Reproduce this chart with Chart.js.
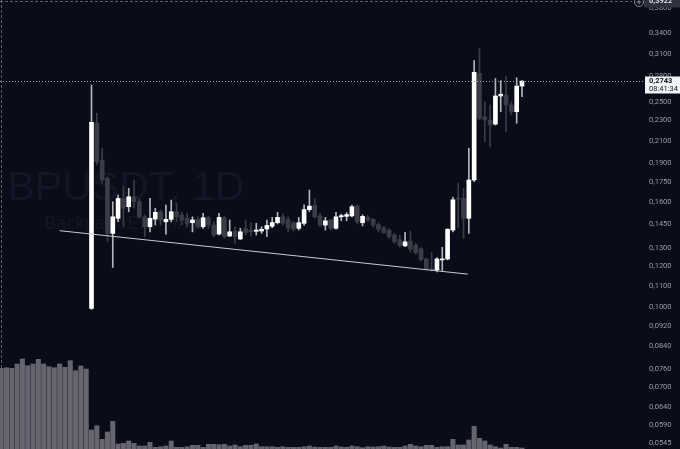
<!DOCTYPE html>
<html>
<head>
<meta charset="utf-8">
<script src="https://cdn.jsdelivr.net/npm/chart.js@4.4.1/dist/chart.umd.min.js"></script>
<style>
  html, body { margin: 0; padding: 0; background: #0a0c19; }
  #wrap { width: 680px; height: 449px; }
</style>
</head>
<body>
<div id="wrap"><canvas id="chart" width="680" height="449"></canvas></div>
<script>
// BPUSDT daily candles (first candle sits after 17 volume-only slots)
const firstCandle = 17;

const open = [0.0995, 0.2272, 0.1928, 0.1777, 0.1390, 0.1487, 0.1625, 0.1566, 0.1637, 0.1601,
  0.1497, 0.1432, 0.1482, 0.1531, 0.1464, 0.1480, 0.1531, 0.1509, 0.1487, 0.1458,
  0.1480, 0.1432, 0.1491, 0.1443, 0.1386, 0.1491, 0.1374, 0.1404, 0.1356, 0.1420,
  0.1410, 0.1403, 0.1405, 0.1418, 0.1435, 0.1458, 0.1497, 0.1480, 0.1458, 0.1422,
  0.1454, 0.1546, 0.1575, 0.1503, 0.1443, 0.1476, 0.1422, 0.1497, 0.1500, 0.1503,
  0.1570, 0.1458, 0.1493, 0.1480, 0.1446, 0.1425, 0.1411, 0.1380, 0.1352, 0.1315,
  0.1343, 0.1318, 0.1298, 0.1240, 0.1187, 0.1180, 0.1235, 0.1240, 0.1411, 0.1625,
  0.1625, 0.1487, 0.1764, 0.2840, 0.2340, 0.2306, 0.2264, 0.2567, 0.2578, 0.2466,
  0.2393, 0.2683];

const high = [0.2696, 0.2376, 0.2032, 0.1790, 0.1601, 0.1650, 0.1717, 0.1700, 0.1764, 0.1625,
  0.1509, 0.1625, 0.1555, 0.1543, 0.1578, 0.1613, 0.1590, 0.1527, 0.1520, 0.1497,
  0.1497, 0.1520, 0.1503, 0.1464, 0.1520, 0.1503, 0.1476, 0.1432, 0.1422, 0.1476,
  0.1458, 0.1454, 0.1432, 0.1476, 0.1493, 0.1527, 0.1515, 0.1497, 0.1465, 0.1493,
  0.1580, 0.1687, 0.1625, 0.1520, 0.1493, 0.1480, 0.1527, 0.1515, 0.1525, 0.1578,
  0.1578, 0.1510, 0.1505, 0.1487, 0.1458, 0.1435, 0.1420, 0.1390, 0.1380, 0.1396,
  0.1405, 0.1330, 0.1305, 0.1245, 0.1276, 0.1248, 0.1306, 0.1420, 0.1635, 0.1739,
  0.1700, 0.2032, 0.3005, 0.3175, 0.2503, 0.2466, 0.2775, 0.2748, 0.2802, 0.2503,
  0.2784, 0.2750];

const low = [0.0990, 0.1887, 0.1740, 0.1339, 0.1194, 0.1464, 0.1432, 0.1531, 0.1555, 0.1487,
  0.1370, 0.1400, 0.1443, 0.1443, 0.1386, 0.1464, 0.1464, 0.1443, 0.1432, 0.1400,
  0.1422, 0.1422, 0.1422, 0.1370, 0.1380, 0.1360, 0.1370, 0.1330, 0.1352, 0.1380,
  0.1374, 0.1380, 0.1390, 0.1370, 0.1425, 0.1450, 0.1440, 0.1400, 0.1405, 0.1411,
  0.1440, 0.1531, 0.1487, 0.1432, 0.1411, 0.1411, 0.1416, 0.1470, 0.1470, 0.1497,
  0.1450, 0.1437, 0.1465, 0.1430, 0.1400, 0.1390, 0.1360, 0.1330, 0.1308, 0.1310,
  0.1280, 0.1266, 0.1230, 0.1180, 0.1175, 0.1170, 0.1178, 0.1235, 0.1400, 0.1424,
  0.1360, 0.1390, 0.1751, 0.2306, 0.2093, 0.2046, 0.2255, 0.2393, 0.2188, 0.2358,
  0.2273, 0.2560];

const close = [0.2282, 0.1914, 0.1764, 0.1390, 0.1497, 0.1625, 0.1555, 0.1637, 0.1601, 0.1497,
  0.1432, 0.1487, 0.1527, 0.1476, 0.1480, 0.1531, 0.1497, 0.1476, 0.1454, 0.1476,
  0.1432, 0.1491, 0.1443, 0.1380, 0.1493, 0.1370, 0.1400, 0.1370, 0.1400, 0.1395,
  0.1400, 0.1411, 0.1416, 0.1440, 0.1459, 0.1493, 0.1454, 0.1422, 0.1416, 0.1458,
  0.1546, 0.1570, 0.1497, 0.1443, 0.1470, 0.1422, 0.1497, 0.1505, 0.1512, 0.1566,
  0.1464, 0.1500, 0.1476, 0.1443, 0.1416, 0.1395, 0.1370, 0.1339, 0.1318, 0.1339,
  0.1296, 0.1276, 0.1237, 0.1185, 0.1180, 0.1240, 0.1240, 0.1416, 0.1615, 0.1620,
  0.1487, 0.1764, 0.2853, 0.2323, 0.2306, 0.2255, 0.2567, 0.2587, 0.2466, 0.2393,
  0.2683, 0.2743];

// volume per slot (relative height, no scale shown on the chart)
const volume = [80.7, 81.3, 80.7, 85, 90, 83.3, 85, 89.7, 85, 82.3, 81.3, 85, 81.7, 88.3, 78.3, 83, 80,
  19, 23.3, 9.7, 17, 27.7, 5, 5.7, 8, 5.7, 3, 3, 6.7, 1.7, 2.3, 3, 8, 1.7, 1.7, 2.3, 3.7,
  3.7, 1.7, 4.7, 4.7, 4.3, 4.7, 3, 4, 2.3, 3.7, 3.7, 5, 2.3, 2.3, 2.3, 1.7, 2.3, 1.7, 1.7, 1.7,
  2.3, 3, 2, 1.7, 1.7, 1.7, 3, 2, 1.7, 3, 2.3, 1.3, 2.3, 2, 2.3, 3, 2, 1.7, 1.7, 3,
  4.7, 3, 2.3, 3.7, 3.7, 1.7, 2.3, 2.3, 9.7, 4, 4, 9, 22.7, 10.7, 8, 4, 2.3, 1, 4.7, 1.7, 1.7,
  1];

// support trendline drawn on the chart (slot index, price)
const trendSlot = [11, 87.8];
const trendPrice = [0.1407, 0.1159];

const priceTicks = [0.38, 0.34, 0.31, 0.28, 0.25, 0.23, 0.21, 0.19, 0.175, 0.16, 0.145,
  0.13, 0.12, 0.11, 0.10, 0.092, 0.084, 0.076, 0.07, 0.064, 0.059, 0.0545];

const lastPrice = 0.2743;
const lastTime = '08:41:34';
const crossPrice = 0.3922;

const BG = '#0a0c19';
const BULL = '#ffffff';
const BEAR = '#3b3c48';

const fmt = v => v.toFixed(4).replace('.', ',');
const isBull = i => close[i] >= open[i];

const bodies = open.map((o, i) => ({ x: firstCandle + i, y: [o, close[i]] }));
const wicks = low.map((l, i) => ({ x: firstCandle + i, y: [l, high[i]] }));
const vols = volume.map((v, i) => ({ x: i, y: v }));
const trend = trendSlot.map((s, i) => ({ x: s, y: trendPrice[i] }));

const overlay = {
  id: 'overlay',
  beforeDraw(chart) {
    const c = chart.ctx;
    c.save();
    c.fillStyle = BG;
    c.fillRect(0, 0, chart.width, chart.height);
    c.restore();
  },
  beforeDatasetsDraw(chart) {
    const c = chart.ctx;
    c.save();
    c.fillStyle = 'rgba(130,135,160,0.08)';
    c.textAlign = 'center';
    c.textBaseline = 'alphabetic';
    c.font = '41px "Liberation Sans", Arial, sans-serif';
    c.fillText('BPUSDT, 1D', 126, 200);
    c.font = '18px "Liberation Sans", Arial, sans-serif';
    c.fillText('Backpack Exchange', 126, 229);
    c.restore();
  },
  afterDraw(chart) {
    const c = chart.ctx;
    const y = chart.scales.y;
    const area = chart.chartArea;
    c.save();

    // crosshair
    const cy = Math.round(y.getPixelForValue(crossPrice)) + 0.5;
    c.strokeStyle = '#5d606c';
    c.lineWidth = 1;
    c.setLineDash([3, 2]);
    c.beginPath();
    c.moveTo(0, cy); c.lineTo(area.right, cy);
    c.moveTo(1.5, 0); c.lineTo(1.5, area.bottom);
    c.stroke();

    // last price line
    const py = Math.round(y.getPixelForValue(lastPrice)) + 0.5;
    c.strokeStyle = '#9fa2ad';
    c.setLineDash([1, 2]);
    c.beginPath();
    c.moveTo(0, py); c.lineTo(645, py);
    c.stroke();
    c.setLineDash([]);

    // crosshair price label
    c.fillStyle = '#2e323d';
    c.fillRect(644, cy - 9, 36, 15);
    c.strokeStyle = '#8a8d98';
    c.beginPath();
    c.arc(639, cy + 0.5, 4.5, 0, Math.PI * 2);
    c.moveTo(636.5, cy + 0.5); c.lineTo(641.5, cy + 0.5);
    c.moveTo(639, cy - 2); c.lineTo(639, cy + 3);
    c.stroke();
    c.fillStyle = '#d8dae0';
    c.font = 'bold 7.5px Roboto, sans-serif';
    c.textBaseline = 'middle';
    c.textAlign = 'left';
    c.fillText(fmt(crossPrice), 649, cy);

    // last price label
    c.fillStyle = '#f2f3f5';
    c.fillRect(645, py - 5, 35, 17);
    c.fillStyle = '#131722';
    c.font = 'bold 7.5px Roboto, sans-serif';
    c.fillText(fmt(lastPrice), 649, py);
    c.font = '7.5px Roboto, sans-serif';
    c.fillText(lastTime, 649, py + 7.5);
    c.restore();
  }
};

new Chart(document.getElementById('chart'), {
  type: 'bar',
  data: {
    datasets: [
      {
        type: 'line',
        data: trend,
        borderColor: '#c9cad2',
        borderWidth: 1,
        pointRadius: 0,
        yAxisID: 'y',
        order: 0,
      },
      {
        data: bodies,
        yAxisID: 'y',
        barThickness: 4,
        minBarLength: 1,
        backgroundColor: ctx => isBull(ctx.dataIndex) ? BULL : BEAR,
        order: 1,
      },
      {
        data: wicks,
        yAxisID: 'y',
        barThickness: 1,
        backgroundColor: ctx => isBull(ctx.dataIndex) ? '#b4b5bc' : BEAR,
        order: 2,
      },
      {
        data: vols,
        yAxisID: 'vol',
        barThickness: 4.4,
        backgroundColor: '#65646f',
        order: 3,
      },
    ],
  },
  options: {
    responsive: false,
    animation: false,
    layout: { padding: 0 },
    datasets: { bar: { grouped: false } },
    plugins: { legend: { display: false }, tooltip: { enabled: false } },
    scales: {
      x: {
        type: 'linear',
        min: -0.22,
        max: 118.7,
        offset: false,
        display: false,
      },
      y: {
        type: 'logarithmic',
        position: 'right',
        min: 0.0531,
        max: 0.394,
        grid: { display: false, drawTicks: false },
        border: { display: false },
        afterBuildTicks: s => { s.ticks = priceTicks.map(v => ({ value: v })); },
        afterFit: s => { s.width = 48; s.paddingTop = 0; s.paddingBottom = 0; },
        ticks: {
          padding: 17,
          color: '#9a9da8',
          font: { family: 'Roboto, sans-serif', size: 7.5 },
          callback: v => fmt(v),
        },
      },
      vol: {
        type: 'linear',
        display: false,
        min: 0,
        max: 449,
      },
    },
  },
  plugins: [overlay],
});
</script>
</body>
</html>
